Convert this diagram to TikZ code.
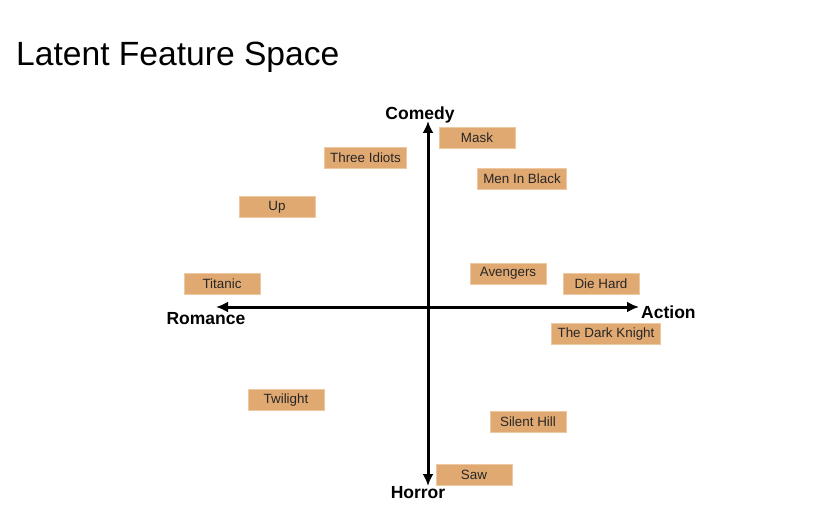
\documentclass[tikz,border=0pt]{standalone}
\usepackage{fontspec}
\setmainfont{Liberation Sans}
\usetikzlibrary{arrows.meta}
\definecolor{movietan}{RGB}{225,169,114}
\definecolor{movieedge}{RGB}{238,200,160}

\begin{document}
\begin{tikzpicture}[x=1pt,y=-1pt,
  movie/.style={fill=movietan,draw=movieedge,line width=0.8pt,minimum width=76pt,minimum height=21pt,inner xsep=6pt,inner ysep=0pt,font=\fontsize{13.4}{15}\selectfont,text=black!85},
  axis/.style={line width=3pt,-{Latex[length=12pt,width=11pt]}},
  axlabel/.style={font=\fontsize{17.5}{20}\selectfont\bfseries}]
\useasboundingbox (0,0) rectangle (840,516);
\node[anchor=base west,inner sep=0pt,font=\fontsize{33.6}{38}\selectfont] (title) at (16,66) {Latent Feature Space};
% axes
\coordinate (origin) at (428,307);
\coordinate (east) at (639,307);
\coordinate (west) at (216,307);
\coordinate (north) at (428,121);
\coordinate (south) at (428,486);
\draw [axis] (origin) -- (east);
\draw [axis] (origin) -- (west);
\draw [axis] (origin) -- (north);
\draw [axis] (origin) -- (south);
\node[axlabel] (comedy) at (420,115) {Comedy};
\node[axlabel] (horror) at (418,493) {Horror};
\node[axlabel] (romance) at (206,319) {Romance};
\node[axlabel,anchor=west,inner sep=1pt] (action) at (640,312) {Action};
% movies
\node[movie] (mask) at (477,138) {Mask};
\node[movie] (idiots) at (365.5,157.5) {Three Idiots};
\node[movie] (mib) at (522,179) {Men In Black};
\node[movie] (up) at (277,207) {Up};
\node[movie] (titanic) at (222,284) {Titanic};
\node[movie] (avengers) at (508,273.5) {Avengers};
\node[movie] (diehard) at (601,284) {Die Hard};
\node[movie] (knight) at (606,334) {The Dark Knight};
\node[movie] (twilight) at (286,400) {Twilight};
\node[movie] (silent) at (528,422) {Silent Hill};
\node[movie] (saw) at (474,475) {Saw};
\end{tikzpicture}
\end{document}
